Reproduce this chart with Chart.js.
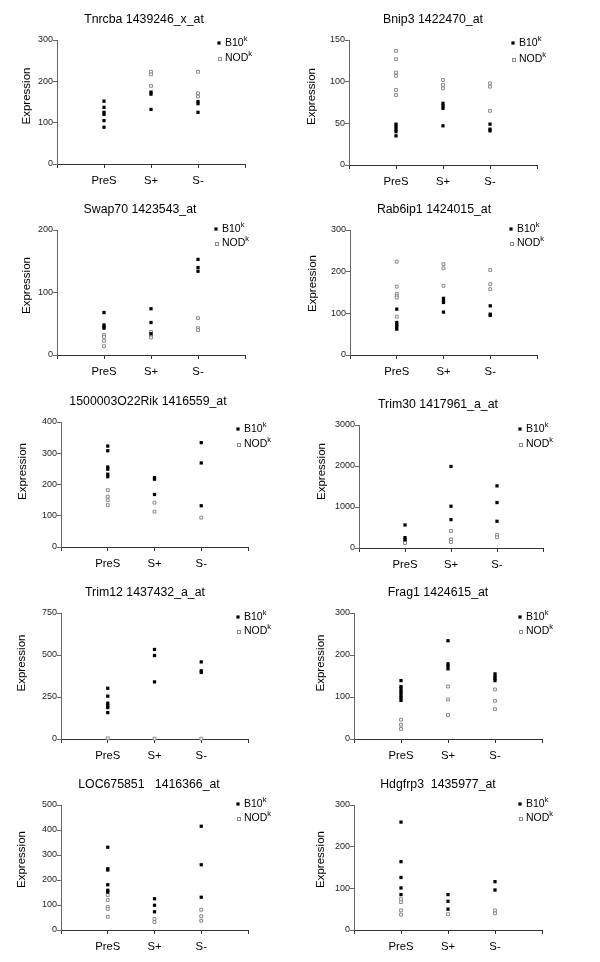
<!DOCTYPE html>
<html>
<head>
<meta charset="utf-8">
<script src="https://cdn.jsdelivr.net/npm/chart.js@4"></script>
<style>
html, body { margin: 0; padding: 0; background: #fff; }
#wrap { position: relative; width: 600px; height: 962px; overflow: hidden; }
#wrap canvas { position: absolute; }
</style>
</head>
<body>
<div id="wrap"></div>
<script>
// groupes sur l'axe x (positions 1, 2, 3)
const groups = ["PreS", "S+", "S-"];

const titles = [
  "Tnrcba 1439246_x_at",
  "Bnip3 1422470_at",
  "Swap70 1423543_at",
  "Rab6ip1 1424015_at",
  "1500003O22Rik 1416559_at",
  "Trim30 1417961_a_at",
  "Trim12 1437432_a_at",
  "Frag1 1424615_at",
  "LOC675851   1416366_at",
  "Hdgfrp3  1435977_at",
];
const yMax = [300, 150, 200, 300, 400, 3000, 750, 300, 500, 300];
const yStep = [100, 50, 100, 100, 100, 1000, 250, 100, 100, 100];

// valeurs par gene : [PreS, S+, S-]
const b10Tnrcba = [[152, 137, 125, 120, 105, 89], [174, 169, 132], [151, 146, 125]];
const nodTnrcba = [[], [223, 217, 189], [223, 171, 163]];

const b10Bnip3 = [[49, 46, 43, 40, 35], [74, 71, 68, 47], [49, 43, 41]];
const nodBnip3 = [[137, 127, 111, 107, 90, 84], [102, 96, 92], [98, 94, 65]];

const b10Swap70 = [[68, 48, 45, 43], [74, 52, 34], [153, 140, 134]];
const nodSwap70 = [[32, 29, 23, 14], [37, 31, 28], [59, 43, 40]];

const b10Rab6ip1 = [[110, 78, 73, 68, 62], [136, 130, 126, 103], [118, 98, 95]];
const nodRab6ip1 = [[224, 164, 147, 142, 138, 92], [218, 208, 166], [204, 170, 158]];

const b10Rik = [[323, 308, 256, 249, 233, 225], [222, 217, 168], [334, 269, 132]];
const nodRik = [[182, 161, 150, 134], [142, 113], [94]];

const b10Trim30 = [[562, 253, 204], [1989, 1019, 693], [1516, 1108, 652]];
const nodTrim30 = [[150, 122], [416, 212, 147], [318, 261]];

const b10Trim12 = [[302, 255, 213, 199, 187, 157], [533, 497, 340], [459, 406, 396]];
const nodTrim12 = [[4], [2], [2]];

const b10Frag1 = [[139, 125, 120, 114, 109, 103, 98, 92], [234, 179, 173, 167], [155, 149, 144, 139]];
const nodFrag1 = [[46, 34, 24], [125, 94, 57], [118, 91, 71]];

const b10Loc = [[331, 245, 240, 181, 159, 152], [125, 99, 73], [415, 261, 131]];
const nodLoc = [[140, 120, 92, 84, 53], [44, 32], [81, 55, 37]];

const b10Hdgfrp3 = [[259, 164, 126, 101, 85], [85, 69, 50], [116, 96]];
const nodHdgfrp3 = [[74, 67, 47, 37], [38], [47, 40]];

const b10Sets = [b10Tnrcba, b10Bnip3, b10Swap70, b10Rab6ip1, b10Rik, b10Trim30, b10Trim12, b10Frag1, b10Loc, b10Hdgfrp3];
const nodSets = [nodTnrcba, nodBnip3, nodSwap70, nodRab6ip1, nodRik, nodTrim30, nodTrim12, nodFrag1, nodLoc, nodHdgfrp3];

// mise en page : axe y (ax), haut/bas/droite de la zone du graphe, centre du titre (tc),
// legende (lx, ly1, ly2), etiquette "Expression" (yd, yo)
const frames = [
  { ax: 57,  top: 40,  bottom: 164, right: 245, tc: 144, lx: 162, ly1: 3,  ly2: 18, yd: 30, yo: -6 },
  { ax: 349, top: 40,  bottom: 165, right: 537, tc: 433, lx: 164, ly1: 3,  ly2: 19, yd: 37, yo: -6 },
  { ax: 57,  top: 230, bottom: 355, right: 245, tc: 140, lx: 159, ly1: -1, ly2: 13, yd: 30, yo: -7 },
  { ax: 350, top: 230, bottom: 355, right: 537, tc: 434, lx: 161, ly1: -1, ly2: 13, yd: 37, yo: -9 },
  { ax: 61,  top: 422, bottom: 547, right: 248, tc: 148, lx: 177, ly1: 7,  ly2: 22, yd: 38, yo: -13 },
  { ax: 359, top: 425, bottom: 548, right: 543, tc: 438, lx: 161, ly1: 4,  ly2: 19, yd: 37, yo: -15 },
  { ax: 61,  top: 613, bottom: 739, right: 248, tc: 145, lx: 177, ly1: 4,  ly2: 18, yd: 39, yo: -13 },
  { ax: 354, top: 613, bottom: 739, right: 542, tc: 438, lx: 166, ly1: 4,  ly2: 18, yd: 33, yo: -13 },
  { ax: 61,  top: 805, bottom: 930, right: 248, tc: 149, lx: 177, ly1: -1, ly2: 13, yd: 39, yo: -8 },
  { ax: 354, top: 805, bottom: 930, right: 542, tc: 438, lx: 166, ly1: -1, ly2: 13, yd: 33, yo: -8 },
];

const FONT = "'Liberation Sans', Arial, Helvetica, sans-serif";
Chart.defaults.font.family = FONT;

/* titre du panneau, legende B10k / NODk et titre de l'axe y */
const keyBox = {
  id: "keyBox",
  afterDraw(chart, args, o) {
    const ctx = chart.ctx;
    const a = chart.chartArea;
    ctx.save();

    // titre (centre un peu a gauche du graphe, comme l'original)
    ctx.fillStyle = "#000";
    ctx.textAlign = "center";
    ctx.textBaseline = "middle";
    ctx.font = "12.3px " + FONT;
    ctx.fillText(o.title, o.tx, a.top - 20);

    const x = a.left + o.lx;
    const y1 = a.top + o.ly1;
    const y2 = a.top + o.ly2;
    ctx.fillRect(x - 1.6, y1 - 1.6, 3.2, 3.2);
    ctx.strokeStyle = "#8a8a8a";
    ctx.lineWidth = 1;
    ctx.strokeRect(Math.round(x - 1.5) + 0.5, Math.round(y2 - 1.5) + 0.5, 3, 3);

    ctx.textAlign = "left";
    [["B10", y1], ["NOD", y2]].forEach(([t, y]) => {
      ctx.font = "10.5px " + FONT;
      ctx.fillText(t, x + 6, y);
      const w = ctx.measureText(t).width;
      ctx.font = "7.5px " + FONT;
      ctx.fillText("k", x + 6 + w, y - 4);
    });

    ctx.translate(a.left - o.yd, (a.top + a.bottom) / 2 + o.yo);
    ctx.rotate(-Math.PI / 2);
    ctx.textAlign = "center";
    ctx.font = "11.5px " + FONT;
    ctx.fillText("Expression", 0, 0);
    ctx.restore();
  },
};

function toPoints(sets) {
  const pts = [];
  sets.forEach((vals, g) => vals.forEach(v => pts.push({ x: g + 1, y: v })));
  return pts;
}

const wrap = document.getElementById("wrap");

frames.forEach((f, i) => {
  const left = f.ax - 57;
  const top = f.top - 40;
  const padR = 40;
  const w = f.right - left + padR;
  const h = 40 + (f.bottom - f.top) + 30;

  const cv = document.createElement("canvas");
  cv.width = w;
  cv.height = h;
  cv.style.left = left + "px";
  cv.style.top = top + "px";
  cv.style.width = w + "px";
  cv.style.height = h + "px";
  wrap.appendChild(cv);

  new Chart(cv.getContext("2d"), {
    type: "scatter",
    data: {
      datasets: [
        {
          label: "B10k",
          data: toPoints(b10Sets[i]),
          pointStyle: "rect",
          pointRadius: 2.3,
          pointBorderWidth: 0,
          backgroundColor: "#000",
          borderColor: "#000",
          clip: false,
        },
        {
          label: "NODk",
          data: toPoints(nodSets[i]),
          pointStyle: "rect",
          pointRadius: 2,
          pointBorderWidth: 1,
          backgroundColor: "#fff",
          borderColor: "#8a8a8a",
          clip: false,
        },
      ],
    },
    options: {
      responsive: false,
      animation: false,
      events: [],
      layout: { padding: { left: 0, top: 40, right: padR, bottom: 0 } },
      plugins: {
        legend: { display: false },
        tooltip: { enabled: false },
        title: { display: false },
        keyBox: {
          title: titles[i], tx: f.tc - left,
          lx: f.lx, ly1: f.ly1, ly2: f.ly2, yd: f.yd, yo: f.yo,
        },
      },
      scales: {
        x: {
          type: "linear",
          min: 0,
          max: 4,
          afterFit: s => { s.height = 30; },
          ticks: {
            stepSize: 1,
            autoSkip: false,
            maxRotation: 0,
            padding: 6,
            color: "#000",
            font: { size: 11.3 },
            callback: v => groups[v - 1] || "",
          },
          grid: { drawOnChartArea: false, drawTicks: true, tickLength: 4, color: "#333" },
          border: { display: true, color: "#333" },
        },
        y: {
          min: 0,
          max: yMax[i],
          afterFit: s => { s.width = 57; },
          ticks: {
            stepSize: yStep[i],
            padding: 0,
            color: "#222",
            font: { size: 9 },
            callback: v => String(v),
          },
          grid: { drawOnChartArea: false, drawTicks: true, tickLength: 4, color: "#666" },
          border: { display: true, color: "#666" },
        },
      },
    },
    plugins: [keyBox],
  });
});
</script>
</body>
</html>
